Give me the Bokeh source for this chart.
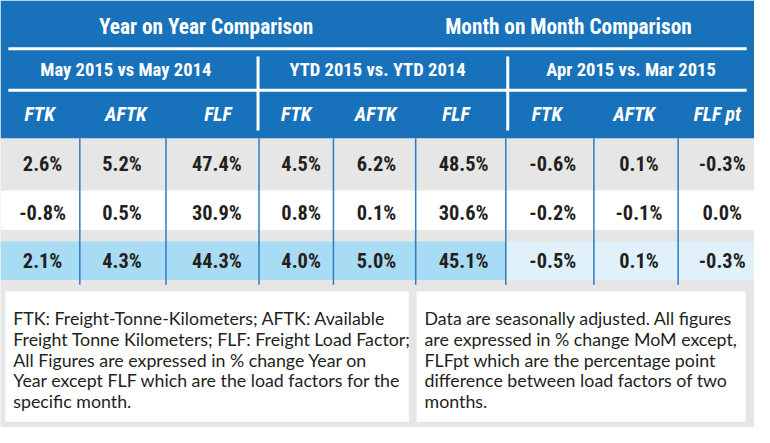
from bokeh.plotting import figure
from bokeh.models import Range1d, ColumnDataSource
from bokeh.core.properties import value
from bokeh.embed import file_html
from bokeh.resources import INLINE

# ---------------- data ----------------
groups = ["Year on Year Comparison", "Month on Month Comparison"]
periods = ["May 2015 vs May 2014", "YTD 2015 vs. YTD 2014", "Apr 2015 vs. Mar 2015"]
metrics = ["FTK", "AFTK", "FLF", "FTK", "AFTK", "FLF", "FTK", "AFTK", "FLF pt"]
row1 = [2.6, 5.2, 47.4, 4.5, 6.2, 48.5, -0.6, 0.1, -0.3]
row2 = [-0.8, 0.5, 30.9, 0.8, 0.1, 30.6, -0.2, -0.1, 0.0]
row3 = [2.1, 4.3, 44.3, 4.0, 5.0, 45.1, -0.5, 0.1, -0.3]
notes_left = [
    "FTK: Freight-Tonne-Kilometers; AFTK: Available",
    "Freight Tonne Kilometers; FLF: Freight Load Factor;",
    "All Figures are expressed in % change Year on",
    "Year except FLF which are the load factors for the",
    "specific month.",
]
notes_right = [
    "Data are seasonally adjusted. All figures",
    "are expressed in % change MoM except,",
    "FLFpt which are the percentage point",
    "difference between load factors of two",
    "months.",
]

# ---------------- layout (positions / styles) ----------------
W, H = 770, 443
PW, PH = 754, 427
SC = 0.97
def fs(px):
    return f"{px * SC:.1f}px"

BLUE = "#1872bb"
GRAY = "#e6e6e6"
LBLUE = "#a8dbf4"
VLBLUE = "#e0f1fb"
LINEBLUE = "#2f7cc1"
DARK = "#231f20"
COND = value("'Roboto Condensed', 'Noto Sans Condensed', Roboto, sans-serif")
NOTE_FONT = value("Lato")

group_x = [210, 580]
period_x = [128, 385, 644]
metric_x = [40, 128, 222, 302, 383, 465, 558, 647, 732]
cell_x = [43, 124, 221, 307, 384, 473, 564, 652, 737]
row_y = [170, 220, 270]
sep_x = [81, 169, 264, 340, 424, 516, 606, 692]
note_base = [329.5, 351, 372.5, 394, 415.5]

p = figure(width=PW, height=PH, x_range=Range1d(0, W), y_range=Range1d(H, 0),
           output_backend="svg", toolbar_location=None, min_border=0,
           background_fill_color=GRAY, border_fill_color=GRAY, outline_line_color=None)
p.axis.visible = False
p.grid.visible = False

# header block
p.quad(left=[0], right=[W], top=[0], bottom=[143], fill_color=BLUE, line_color=None)
p.segment(x0=[8, 8], x1=[762, 762], y0=[50, 93], y1=[50, 93], line_color="white", line_width=3)
p.segment(x0=[263, 518], x1=[263, 518], y0=[58, 58], y1=[135, 135], line_color="white", line_width=3)

# row bands
p.quad(left=[0], right=[W], top=[197], bottom=[238], fill_color="white", line_color=None)
p.quad(left=[0, 516], right=[516, W], top=[250, 250], bottom=[290, 290],
       fill_color=[LBLUE, VLBLUE], line_color=None)

# separators
p.segment(x0=sep_x, x1=sep_x, y0=[143] * len(sep_x), y1=[295] * len(sep_x),
          line_color=LINEBLUE, line_width=1.5)

# header texts
p.text(x=group_x, y=[27, 27], text=groups, text_color="white", text_font=COND,
       text_font_style="bold", text_font_size=fs(22), text_align="center", text_baseline="middle")
p.text(x=period_x, y=[72] * 3, text=periods, text_color="white", text_font=COND,
       text_font_style="bold", text_font_size=fs(19.2), text_align="center", text_baseline="middle")
p.text(x=metric_x, y=[118] * len(metric_x), text=metrics, text_color="white", text_font=COND,
       text_font_style="bold italic", text_font_size=fs(20.3), text_align="center", text_baseline="middle")

# cells
for ry, row in zip(row_y, [row1, row2, row3]):
    src = ColumnDataSource(dict(x=cell_x, y=[ry] * len(cell_x), t=[f"{v:.1f}%" for v in row]))
    p.text(x="x", y="y", text="t", source=src, text_color=DARK, text_font=COND,
           text_font_style="bold", text_font_size=fs(21), text_align="center", text_baseline="middle")

# notes
p.quad(left=[5, 425], right=[417, 761], top=[302, 302], bottom=[437, 437],
       fill_color="white", line_color=None)
p.text(x=[13] * len(notes_left), y=note_base, text=notes_left, text_color=DARK, text_font=NOTE_FONT,
       text_font_size=fs(18.3), text_align="left", text_baseline="alphabetic")
p.text(x=[433] * len(notes_right), y=note_base, text=notes_right, text_color=DARK, text_font=NOTE_FONT,
       text_font_size=fs(18.3), text_align="left", text_baseline="alphabetic")

open("out.html", "w").write(file_html(p, INLINE))
